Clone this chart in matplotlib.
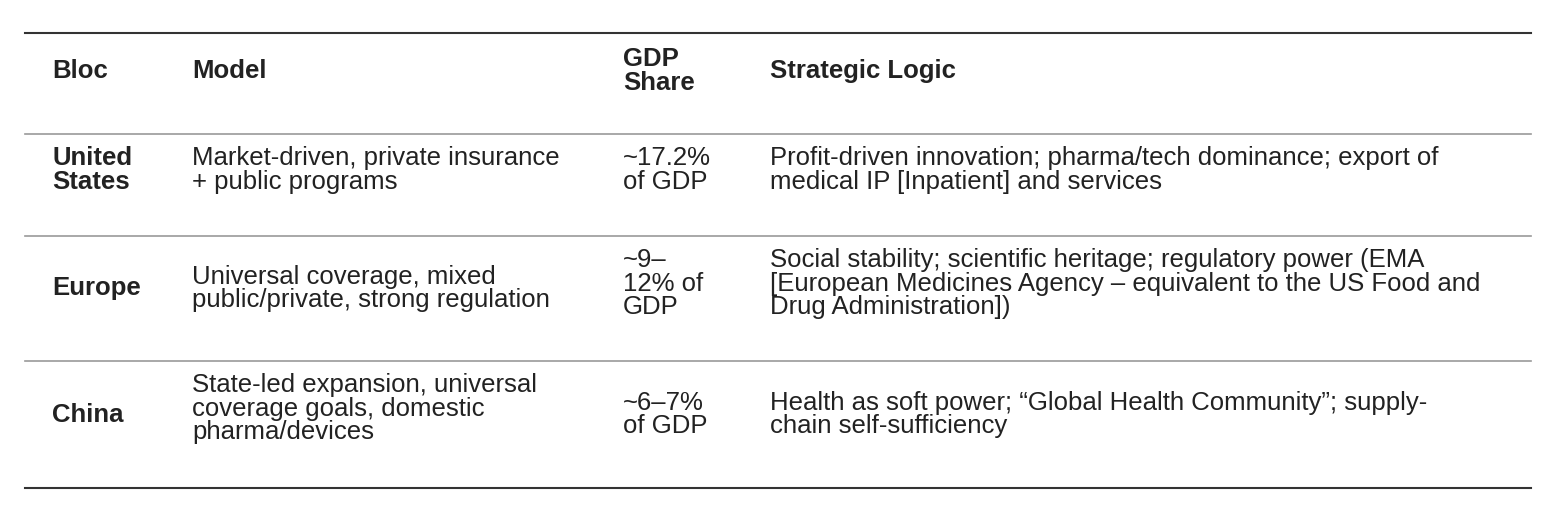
import matplotlib
matplotlib.use("Agg")
import matplotlib.pyplot as plt

W, H = 1554, 526

headers = ["Bloc", "Model", "GDP\nShare", "Strategic Logic"]
blocs = ["United\nStates", "Europe", "China"]
models = [
    "Market-driven, private insurance\n+ public programs",
    "Universal coverage, mixed\npublic/private, strong regulation",
    "State-led expansion, universal\ncoverage goals, domestic\npharma/devices",
]
gdp_share = ["~17.2%\nof GDP", "~9–\n12% of\nGDP", "~6–7%\nof GDP"]
logic = [
    "Profit-driven innovation; pharma/tech dominance; export of\nmedical IP [Inpatient] and services",
    "Social stability; scientific heritage; regulatory power (EMA\n[European Medicines Agency – equivalent to the US Food and\nDrug Administration])",
    "Health as soft power; “Global Health Community”; supply-\nchain self-sufficiency",
]

col_x = [52, 192, 623, 770]
row_top = [134, 236, 361]
row_bot = [236, 361, 488]
text_top_pad = 12

plt.rcParams["font.family"] = ["Liberation Sans", "DejaVu Sans"]
fig = plt.figure(figsize=(W / 100, H / 100), dpi=100)
ax = fig.add_axes([0, 0, 1, 1])
ax.set_xlim(0, W)
ax.set_ylim(H, 0)
ax.axis("off")

fs = 18.5
ls = 0.98
tc = "#222222"

ax.plot([25, 1531], [33, 33], color="#333333", lw=1.5)
ax.plot([25, 1531], [488, 488], color="#333333", lw=1.5)
for y in row_top:
    ax.plot([25, 1531], [y, y], color="#999999", lw=1.2)

for x, h in zip(col_x, headers):
    ax.text(x, 71, h, fontsize=fs, fontweight="bold",
            color=tc, va="center", ha="left", linespacing=ls)

for i in range(3):
    top = row_top[i] + text_top_pad
    mid = (row_top[i] + row_bot[i]) / 2 - 10
    if i == 0:
        ax.text(col_x[0], top, blocs[i], fontsize=fs, fontweight="bold",
                color=tc, va="top", linespacing=ls)
    else:
        ax.text(col_x[0], mid, blocs[i], fontsize=fs, fontweight="bold",
                color=tc, va="center", linespacing=ls)
    for x, t in zip(col_x[1:], [models[i], gdp_share[i], logic[i]]):
        nlines = t.count("\n") + 1
        if i == 0 or nlines == 3:
            ax.text(x, top, t, fontsize=fs, color=tc, va="top", linespacing=ls)
        else:
            ax.text(x, mid, t, fontsize=fs, color=tc, va="center", linespacing=ls)

fig.savefig("out.png", dpi=100)
